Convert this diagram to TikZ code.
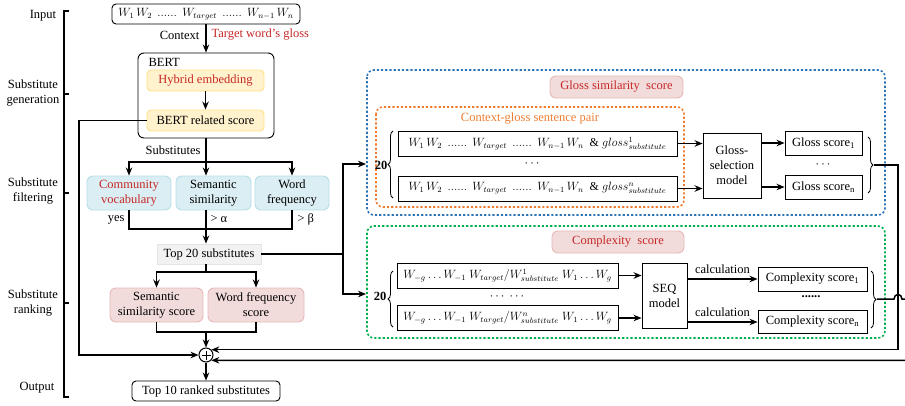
\RequirePackage{fix-cm}
\documentclass[tikz,border=0pt]{standalone}
\usepackage{fontspec}
\setmainfont{Liberation Serif}
\usetikzlibrary{arrows.meta,decorations.pathreplacing,calc}
\definecolor{redtxt}{HTML}{C62828}
\definecolor{yelfill}{HTML}{FFF2CC}
\definecolor{yeldraw}{HTML}{FFE08A}
\definecolor{bluefill}{HTML}{DAEEF3}
\definecolor{bluedraw}{HTML}{B7DEE8}
\definecolor{pinkfill}{HTML}{F2DCDB}
\definecolor{pinkdraw}{HTML}{E6B8B7}
\definecolor{grayfill}{HTML}{F2F2F2}
\definecolor{graydraw}{HTML}{E3E3E3}
\definecolor{orangec}{HTML}{ED7D31}
\definecolor{dotblue}{HTML}{2E75B6}
\definecolor{dotgreen}{HTML}{00B050}
% six low dots, tighter than two \ldots
\newcommand{\sixdots}{\mathinner{......}}
\begin{document}
\begin{tikzpicture}[x=1pt,y=-1pt,
  every node/.style={font=\fontsize{12.5}{15}\selectfont},
  conn/.style={line width=1.5pt, draw=black},
  arr/.style={conn,-{Stealth[length=8pt,width=6.5pt]}},
  box/.style={draw, line width=0.9pt, inner sep=0pt, align=center},
  rbox/.style={box, rounded corners=4pt},
  yelbox/.style={rbox, fill=yelfill, draw=yeldraw},
  bluebox/.style={rbox, fill=bluefill, draw=bluedraw, rounded corners=6pt},
  pinkbox/.style={rbox, fill=pinkfill, draw=pinkdraw, rounded corners=6pt},
  graybox/.style={box, fill=grayfill, draw=graydraw},
  sentence/.style={box, font=\fontsize{12}{14}\selectfont},
  sz/.style 2 args={minimum width=#1pt, minimum height=#2pt},
  lbl/.style={align=center},
  dotrow/.style={inner sep=0pt},
  dotbox/.style={line width=1.6pt, dash pattern=on 2.2pt off 2pt, rounded corners=7pt},
  thinbrace/.style={decorate, decoration={brace, amplitude=5pt}, line width=0.8pt},
]
\useasboundingbox (0,0) rectangle (905,405);

% ---- stage labels and bracket
\node (lin) at (43,16) {Input};
\node[lbl] (lgen) at (33,93) {Substitute\\generation};
\node[lbl] (lfil) at (33,191.5) {Substitute\\filtering};
\node[lbl] (lrank) at (33,303) {Substitute\\ranking};
\node (lout) at (37,388) {Output};
\draw[conn] (69,11) -- (64,11) -- (64,397) -- (69,397);
\foreach \y in {94,193,303} \draw[conn] (64,\y) -- (69,\y);

% ---- generation
\node[rbox, sentence, sz={188}{20}] (input) at (206,14) {$W_1\,W_2\;\sixdots\;W_{target}\;\sixdots\;W_{n-1}\,W_n$};
\node[rbox, sz={136}{85}, rounded corners=6pt] (bert) at (206,95.5) {};
\node[anchor=west] (bertlbl) at (145,62) {BERT};
\node[yelbox, sz={117}{21}, text=redtxt] (hyb) at (205.5,80.5) {Hybrid embedding};
\node[yelbox, sz={117}{21}] (bscore) at (205.5,120.5) {BERT related score};
\draw[arr] (input) -- (bert);
\node[anchor=east] (ctx) at (203,35) {Context};
\node[anchor=west, text=redtxt] (tgl) at (208,35) {Target word's gloss};
\draw[arr] (hyb) -- (bscore);

% ---- filtering
\coordinate (split) at (206,162);
\draw[conn] (bert.south) -- (split);
\node[anchor=east] (subs) at (204,150) {Substitutes};
\node[bluebox, sz={84}{34}, text=redtxt] (comm) at (129,193) {Community\\vocabulary};
\node[bluebox, sz={75}{34}] (sem) at (213.5,193) {Semantic\\similarity};
\node[bluebox, sz={74}{34}] (wf) at (292,193) {Word\\frequency};
\draw[arr] (split) -| (comm.north);
\draw[arr] (split) -| (wf.north);
\draw[arr] (split) -- (split |- sem.north);
\node[graybox, sz={104}{20}] (top20) at (209,254) {Top 20 substitutes};
\coordinate (merge) at (206,229);
\draw[conn] (comm.south) |- (merge);
\draw[conn] (wf.south) |- (merge);
\draw[arr] (merge |- sem.south) -- (top20.north -| merge);
\node[anchor=east] (yes) at (128,220) {yes};
\node[anchor=west] (ga) at (207,219) {> α};
\node[anchor=west] (gb) at (294,219) {> β};

% ---- ranking
\coordinate (rsplit) at (206,272);
\draw[conn] (top20.south -| rsplit) -- (rsplit);
\node[pinkbox, sz={93}{34}] (sss) at (156.5,305) {Semantic\\similarity score};
\node[pinkbox, sz={96}{34}] (wfs) at (256,305) {Word frequency\\score};
\draw[arr] (rsplit) -| (sss.north);
\draw[arr] (rsplit) -| (wfs.north);
\coordinate (rmerge) at (206,332);
\draw[conn] (sss.south) |- (rmerge);
\draw[conn] (wfs.south) |- (rmerge);
\node[circle, draw, line width=1pt, minimum size=14pt, inner sep=0pt, fill=white] (plus) at (206,355) {};
\draw[line width=0.9pt] ([xshift=-4.5pt]plus.center) -- ([xshift=4.5pt]plus.center);
\draw[line width=0.9pt] ([yshift=-4.5pt]plus.center) -- ([yshift=4.5pt]plus.center);
\draw[arr] (rmerge) -- (plus.north);
\node[rbox, sz={148}{20}] (top10) at (206,391) {Top 10 ranked substitutes};
\draw[arr] (plus.south) -- (top10.north);
\coordinate (bturn) at (79,120.5);
\draw[arr] (bscore.west) -- (bturn) |- (plus.west);

% ---- fork to the two scoring panels
\coordinate (fork) at (343,254);
\coordinate (gin) at (366,164);
\coordinate (cin) at (366,294);
\draw[conn] (top20.east) -- (fork);
\draw[arr] (fork) |- (gin);
\draw[arr] (fork) |- (cin);

% ---- gloss similarity panel
\draw[dotbox, draw=dotblue] (367,70) rectangle (885,215);
\node[pinkbox, sz={133}{22}, text=redtxt] (gtitle) at (616.5,87) {Gloss similarity\ \ score};
\draw[dotbox, draw=orangec] (376,107) rectangle (684,207);
\node[text=orangec] (cgp) at (530,119) {Context-gloss sentence pair};
\node (g20) at (381,165) {\bfseries 20};
\draw[thinbrace] (393,198) -- (393,131);
\node[sentence, sz={279}{25}] (gs1) at (537.5,143.5) {$W_1\,W_2\;\sixdots\;W_{target}\;\sixdots\;W_{n-1}\,W_n\ \ \&\ gloss^{1}_{substitute}$};
\node[dotrow] (gdots) at (532,164) {$\cdots$};
\node[sentence, sz={279}{25}] (gsn) at (537.5,188.5) {$W_1\,W_2\;\sixdots\;W_{target}\;\sixdots\;W_{n-1}\,W_n\ \ \&\ gloss^{n}_{substitute}$};
\node[box, sz={58}{65}] (gsm) at (732,165.5) {Gloss-\\selection\\model};
\node[box, sz={77}{24}] (gsc1) at (823.5,143) {Gloss score\textsubscript{1}};
\node[box, sz={77}{24}] (gscn) at (823.5,187) {Gloss score\textsubscript{n}};
\node[dotrow] (gsdots) at (823,165) {$\cdots$};
\draw[arr] (gs1.east) -- (gs1.east -| gsm.west);
\draw[arr] (gsn.east) -- (gsn.east -| gsm.west);
\draw[arr] (gsm.east |- gsc1) -- (gsc1.west);
\draw[arr] (gsm.east |- gscn) -- (gscn.west);
\draw[thinbrace] (868,137) -- (868,193);
\coordinate (gtip) at (874,165);
\coordinate (gturn) at (898,165);
\draw[arr] (gtip) -- (gturn) |- (plus.45);

% ---- complexity panel
\draw[dotbox, draw=dotgreen] (367,226) rectangle (885,338);
\node[pinkbox, sz={132}{22}, text=redtxt] (ctitle) at (618,242) {Complexity\ \ score};
\node (c20) at (380,296) {\bfseries 20};
\draw[thinbrace] (393,327) -- (393,271);
\node[sentence, sz={221}{25}] (cs1) at (507.5,275.5) {$W_{-g}\ldots W_{-1}\; W_{target}/W^{1}_{substitute}\; W_1\ldots W_g$};
\node[dotrow] (csdots) at (507,297) {$\cdots\ \cdots$};
\node[sentence, sz={221}{25}] (csn) at (507.5,318) {$W_{-g}\ldots W_{-1}\; W_{target}/W^{n}_{substitute}\; W_1\ldots W_g$};
\node[box, sz={45}{65}] (seq) at (664.5,295.5) {SEQ\\model};
\node[box, sz={109}{24}] (cx1) at (812.5,279) {Complexity score\textsubscript{1}};
\node[box, sz={109}{23}] (cxn) at (812.5,322) {Complexity score\textsubscript{n}};
\node[dotrow] (cxdots) at (811,297) {\bfseries ......};
\draw[arr] (cs1.east) -- (cs1.east -| seq.west);
\draw[arr] (csn.east) -- (csn.east -| seq.west);
\draw[arr] (seq.east |- cx1) -- node[above=1pt] (calc1) {calculation} (cx1.west);
\draw[arr] (seq.east |- cxn) -- node[above=1pt] (calc2) {calculation} (cxn.west);
\draw[thinbrace] (871,271) -- (871,328);
\coordinate (ctip) at (877,299);
\coordinate (hopa) at (894,299);
\coordinate (hopb) at (902,299);
\coordinate (cturn) at (912,299);
\draw[arr] (ctip) -- (hopa) .. controls (894,293) and (902,293) .. (hopb) -- (cturn) |- (plus.-45);
\end{tikzpicture}
\end{document}
